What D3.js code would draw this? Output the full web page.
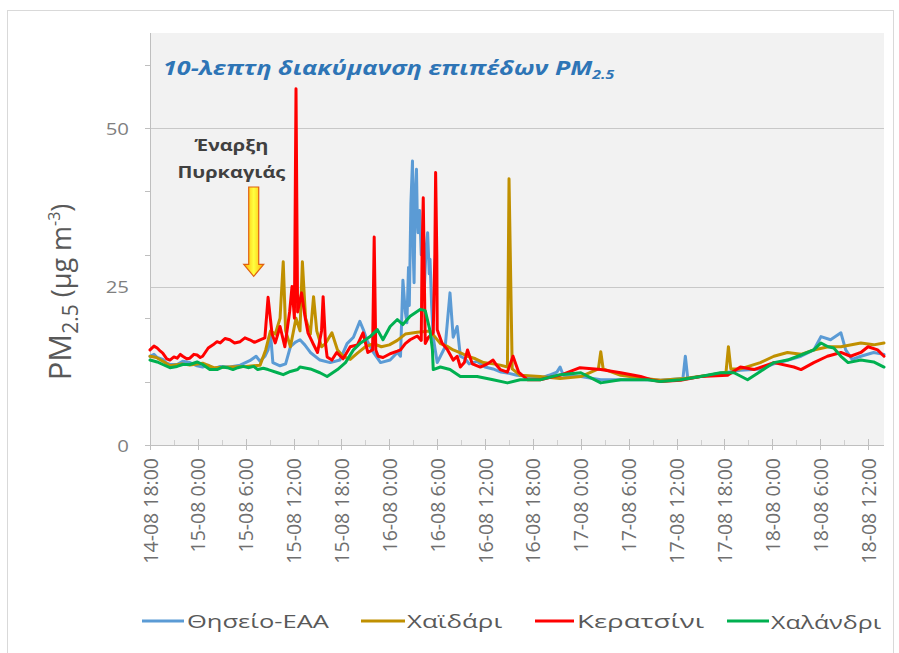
<!DOCTYPE html>
<html><head><meta charset="utf-8">
<script src="https://cdn.jsdelivr.net/npm/d3@7"></script>
<style>body{margin:0;background:#fff}</style>
</head><body>
<svg id="chart" width="899" height="653"></svg>
<script>
// ---------- data ----------
const seriesNames  = ["Θησείο-ΕΑΑ", "Χαϊδάρι", "Κερατσίνι", "Χαλάνδρι"];
const seriesColors = ["#5B9BD5", "#C09000", "#FF0000", "#00B050"];
const startTime = new Date(2021, 7, 14, 18, 0); // 14-08 18:00
const endHours = 92;
// [hours since 14-08 18:00, PM2.5 µg/m3]
const theseio = [[0,14],[0.5,14.3],[0.9,13.8],[1.6,13.5],[2.1,12.9],[2.5,12.7],[3.4,12.7],[4.1,13.2],[5,13],[5.9,12.5],[6.6,12.3],[7.3,12.6],[8,12],[8.8,12.4],[10,12.3],[11.3,12.6],[12.5,13.3],[13.3,14],[13.8,13.2],[14.4,14],[14.8,15],[15.1,17.7],[15.4,13],[16.3,12.5],[17,12.8],[17.6,15.5],[18.2,16.2],[18.8,16.6],[19.4,15.8],[20.1,14.6],[21.3,13.4],[22.6,13],[23.8,13.4],[24.7,16],[25.5,17],[26.3,19.5],[26.8,18],[27.2,16.5],[28,14.6],[28.9,13],[30.1,13.4],[31,14.6],[31.4,14],[31.7,26],[32,21],[32.2,19.3],[32.4,28],[32.5,22],[32.7,38],[32.9,44.8],[33,30],[33.1,25.6],[33.25,40],[33.4,43.5],[33.5,36],[33.6,33.5],[33.8,37],[34,30],[34.2,33],[34.4,25],[34.6,31],[34.8,33.5],[35,27],[35.1,29.3],[35.3,22],[35.5,17],[36,13],[36.4,14],[37,15.5],[37.6,24],[38,17],[38.5,18.7],[38.9,14],[39.5,13.6],[40,12.8],[41,13.2],[42,12.3],[43,12],[44,11.5],[45,11.3],[46,11],[47.5,10.8],[48.9,10.5],[50,11],[51,11.5],[51.4,12.3],[51.8,11],[54,10.8],[56.5,10.3],[59,10.3],[62,10.3],[64,10.2],[66.8,10.5],[67.1,14],[67.4,10.5],[69,10.8],[71.5,11.3],[74,11.8],[76.5,12],[78.2,12.8],[80,13.4],[81.6,14],[83.2,15],[84.1,17.1],[85.3,16.6],[86.6,17.7],[87.2,15],[88,13.5],[89.1,14],[90.7,14.6],[92,14.3]];
const chaidari = [[0,14],[0.8,13.8],[1.6,13.2],[2.5,12.5],[4,12.8],[5,12.6],[6.6,12.9],[8,12.2],[10,12.3],[12,12.4],[13.8,12.6],[14.5,15],[15.1,18],[15.7,17.5],[16.3,20],[16.7,28.9],[17,18],[17.6,15.5],[18.3,20],[18.8,18],[19.1,28.9],[19.5,20],[20.1,17.5],[20.5,23.4],[20.9,18],[21.5,15.5],[22,16],[22.8,17.7],[23.5,15],[24.2,14],[25.1,13.5],[26,14.5],[27,15.5],[28,16],[29,15.5],[30,15.8],[31,16.5],[32,17.5],[33.5,17.8],[35.1,18],[36.4,16],[37.2,15.6],[38,15],[39,14.5],[39.8,14],[40.8,13.6],[41.8,13],[43,12.8],[43.9,12.6],[44.8,12.3],[45,42],[45.4,12],[46.4,11],[48.9,10.8],[51.4,10.5],[54,10.8],[56.2,12],[56.5,14.7],[56.8,12],[59,11],[62,10.5],[64,10.2],[67,10.5],[70,11],[72.2,11.5],[72.5,15.5],[72.8,12],[74,12],[76.5,13],[78.2,14],[79.9,14.6],[81.6,14.3],[83.2,15],[85,15.5],[86.6,15.5],[89.1,16.1],[90.7,15.8],[92,16.1]];
const keratsini = [[0,15],[0.5,15.6],[0.9,15.3],[1.3,14.8],[1.6,14.5],[2.1,13.6],[2.5,13.4],[3,13.9],[3.4,13.7],[3.8,14.3],[4.1,14],[4.6,13.6],[5,13.7],[5.5,14.3],[5.9,14.2],[6.3,13.8],[6.6,14],[7.3,15.3],[7.9,15.8],[8.4,16.3],[8.8,16.1],[9.4,16.8],[10,16.6],[10.6,16.1],[11.3,16.3],[11.9,16.9],[12.5,16.6],[13.1,16.2],[13.8,16.6],[14.4,16.9],[14.8,23.3],[15.3,17.5],[15.7,16.1],[16.3,18.7],[16.9,15.5],[17.5,21],[17.8,25],[18.1,20],[18.3,56.2],[18.5,21],[19,24],[19.4,20.5],[19.8,17.7],[20.4,16.1],[21,14.6],[21.5,18],[21.7,23.4],[22,16],[22.2,13.9],[22.8,13.4],[23.4,14.6],[24.2,13.6],[25.1,15.5],[26,15.8],[26.7,17.7],[27.3,14.6],[27.9,15],[28.1,32.8],[28.3,15],[28.6,14],[29.2,13.8],[30.1,14.4],[31,14.8],[31.4,15],[32,16],[32.6,16.6],[33.5,17.2],[34,16.5],[34.1,30],[34.25,39],[34.4,25],[34.5,16],[34.9,17],[35.5,17.7],[35.7,30],[35.8,43],[35.95,30],[36,18.2],[36.6,16.1],[37.3,15],[38,13.4],[38.5,14],[38.9,12.3],[39.4,13],[39.8,15],[40.4,12.8],[41.4,12.3],[42.3,12.8],[43,13.4],[43.5,12.5],[43.9,11.9],[44.8,11.5],[45.5,14],[46.2,11.5],[47.3,10.3],[48.9,10.3],[50.6,10.8],[51.4,11],[53.9,12.2],[56.5,11.9],[59,11.4],[61.5,10.8],[63.1,10.2],[64,10],[66.5,10.2],[69,10.8],[72.4,11],[74,12.3],[75.7,11.9],[78.2,13],[80.7,12.3],[81.6,11.9],[83.2,13],[84.9,14],[86.6,14.6],[87.8,14],[89.1,14.6],[90,15.5],[91.2,15],[92,14]];
const chalandri = [[0,13.4],[0.9,13.1],[1.6,12.7],[2.5,12.2],[3.4,12.4],[4.1,12.7],[5,12.7],[5.9,13.1],[6.6,12.7],[7.5,11.9],[8.4,11.9],[9.1,12.3],[9.7,12.2],[10.4,11.9],[11,12.2],[11.7,12.4],[12.3,12.2],[13,12.4],[13.5,11.9],[14.2,12.1],[14.8,11.9],[16,11.4],[16.7,11.1],[17.6,11.6],[18.5,11.9],[18.8,12.3],[20.1,12],[21.3,11.4],[22.2,10.8],[23.5,11.9],[24.5,13],[25.5,15],[26.4,16.1],[27.6,17.1],[28.5,18.2],[29.2,16.6],[30.1,18.7],[31,19.8],[31.7,19],[32.6,20.3],[33.9,21.4],[34.5,21.2],[35.1,18],[35.4,15],[35.5,11.9],[36.4,12.3],[37.6,11.9],[38.9,10.8],[41,10.8],[43,10.3],[44.8,9.8],[46.4,10.3],[48.9,10.3],[51.4,11.1],[54,11.4],[56.5,9.8],[59,10.3],[62.4,10.3],[64,10],[66.5,10.3],[69,10.8],[71.5,11.4],[73.2,11.4],[74.9,10.3],[76.5,11.6],[78.2,13],[79.9,13.4],[81.6,14.2],[83.2,15],[84.1,16.1],[85,15.5],[85.7,15.3],[86.6,14],[87.5,13],[89.1,13.4],[90.7,13.1],[92,12.3]];
const seriesData = [theseio, chaidari, keratsini, chalandri];
const yLabelTicks = [0, 25, 50];
const yGridValues = [25, 50];
const yMarkTicks = [0, 10, 20, 30, 40, 50, 60];
const titleText = "10-λεπτη διακύμανση επιπέδων PM";
const annotationLines = ["Έναρξη", "Πυρκαγιάς"];

// ---------- layout ----------
const svg = d3.select("#chart");
const L = 150, R = 884, T = 33, B = 445;
const t = h => d3.timeMinute.offset(startTime, Math.round(h * 60));
const x = d3.scaleTime().domain([startTime, t(endHours)]).range([L, R]);
const y = d3.scaleLinear().domain([0, 65]).range([B, T]);

function fitGroup(g, target) {
  const bb = g.node().getBBox();
  return target / bb.width;
}

// outer frame
svg.append("rect").attr("x", 7.5).attr("y", 10.5).attr("width", 886).attr("height", 660)
  .attr("fill", "none").attr("stroke", "#D9D9D9");

// plot background
svg.append("rect").attr("x", L).attr("y", T).attr("width", R - L).attr("height", B - T).attr("fill", "#F2F2F2");

// gridlines
svg.append("g").selectAll("line").data(yGridValues).join("line")
  .attr("x1", L).attr("x2", R).attr("y1", d => Math.round(y(d)) + 0.5).attr("y2", d => Math.round(y(d)) + 0.5)
  .attr("stroke", "#C8C8C8").attr("stroke-width", 1);

// y axis
svg.append("line").attr("x1", L + 0.5).attr("x2", L + 0.5).attr("y1", T).attr("y2", B).attr("stroke", "#BFBFBF");
svg.append("g").selectAll("line").data(yMarkTicks).join("line")
  .attr("x1", L - 5).attr("x2", L).attr("y1", d => Math.round(y(d)) + 0.5).attr("y2", d => Math.round(y(d)) + 0.5)
  .attr("stroke", "#BFBFBF");
yLabelTicks.forEach(v => {
  const g = svg.append("g");
  g.append("text").attr("x", 0).attr("y", 0).attr("text-anchor", "end").attr("dominant-baseline", "central")
    .attr("font-family", "Open Sans").attr("font-size", 17).attr("fill", "#7F7F7F").text(v);
  g.attr("transform", `translate(129,${y(v)}) scale(1.2,1)`);
});

// y axis title
const yt = svg.append("text").attr("transform", "translate(71,292) rotate(-90)")
  .attr("text-anchor", "middle").attr("font-family", "Open Sans").attr("fill", "#595959");
yt.append("tspan").attr("font-size", 31).text("PM");
yt.append("tspan").attr("font-size", 21).attr("dy", 7).text("2.5");
yt.append("tspan").attr("font-size", 27).attr("dy", -7).text(" (μg m");
yt.append("tspan").attr("font-size", 16).attr("dy", -11).text("-3");
yt.append("tspan").attr("font-size", 27).attr("dy", 11).text(")");

// x axis
const majorTicks = d3.timeHour.every(6).range(startTime, t(endHours));
const minorTicks = d3.timeHour.every(3).range(startTime, t(endHours)).filter(d => d.getHours() % 6 !== 0);
svg.append("line").attr("x1", L).attr("x2", R).attr("y1", B + 0.5).attr("y2", B + 0.5).attr("stroke", "#BFBFBF");
svg.append("g").selectAll("line").data(majorTicks).join("line")
  .attr("x1", d => Math.round(x(d)) + 0.5).attr("x2", d => Math.round(x(d)) + 0.5)
  .attr("y1", B - 6).attr("y2", B + 5).attr("stroke", "#BFBFBF");
svg.append("g").selectAll("line").data(minorTicks).join("line")
  .attr("x1", d => Math.round(x(d)) + 0.5).attr("x2", d => Math.round(x(d)) + 0.5)
  .attr("y1", B - 5).attr("y2", B).attr("stroke", "#CFCFCF");
const fmt = d3.timeFormat("%d-%m %-H:%M");
svg.append("g").selectAll("text").data(majorTicks).join("text")
  .attr("transform", d => `translate(${x(d)},458) rotate(-90)`)
  .attr("text-anchor", "end").attr("dominant-baseline", "central")
  .attr("font-family", "Open Sans").attr("font-size", 19.5).attr("fill", "#6F6F6F")
  .text(d => fmt(d));

// lines
const line = d3.line().x(d => x(t(d[0]))).y(d => y(d[1]));
svg.append("g").selectAll("path").data(seriesData).join("path")
  .attr("d", d => line(d)).attr("fill", "none")
  .attr("stroke", (d, i) => seriesColors[i]).attr("stroke-width", 3)
  .attr("stroke-linejoin", "round").attr("stroke-linecap", "round");

// title
const tg = svg.append("g");
const tt = tg.append("text").attr("x", 0).attr("y", 0).attr("font-family", "Open Sans")
  .attr("font-style", "italic").attr("font-weight", "bold").attr("font-size", 19).attr("fill", "#2E75B6");
tt.append("tspan").text(titleText);
tt.append("tspan").attr("font-size", 12).attr("dy", 4).text("2.5");
tg.attr("transform", `translate(163,75) scale(${fitGroup(tg, 452)},1)`);

// annotation
const annX = x(t(10.2));
annotationLines.forEach((s, i) => {
  const g = svg.append("g");
  g.append("text").attr("text-anchor", "middle").attr("font-family", "Open Sans").attr("font-weight", "bold")
    .attr("font-size", 16).attr("fill", "#404040").text(s);
  g.attr("transform", `translate(${annX},${[151, 178][i]}) scale(1.25,1)`);
});
const defs = svg.append("defs");
const grad = defs.append("linearGradient").attr("id", "arrowGrad").attr("x1", "0").attr("x2", "1").attr("y1", "0").attr("y2", "0");
grad.append("stop").attr("offset", "0%").attr("stop-color", "#FFB000");
grad.append("stop").attr("offset", "50%").attr("stop-color", "#FFFF40");
grad.append("stop").attr("offset", "100%").attr("stop-color", "#FFB000");
const ax = x(t(13.0)), aTop = y(40.7), aNeck = y(28.5), aTip = y(26.6);
svg.append("path")
  .attr("d", `M${ax - 5},${aTop} L${ax + 5},${aTop} L${ax + 5},${aNeck} L${ax + 10},${aNeck} L${ax},${aTip} L${ax - 10},${aNeck} L${ax - 5},${aNeck} Z`)
  .attr("fill", "url(#arrowGrad)").attr("stroke", "#E06010").attr("stroke-width", 1.2);

// legend
const legLine = [[142, 184], [361, 405], [535, 574], [727, 769]];
const legText = [[187, 329], [407, 503], [577, 705], [771, 882]];
seriesNames.forEach((n, i) => {
  svg.append("line").attr("x1", legLine[i][0]).attr("x2", legLine[i][1]).attr("y1", 621).attr("y2", 621)
    .attr("stroke", seriesColors[i]).attr("stroke-width", 3);
  const g = svg.append("g");
  g.append("text").attr("x", 0).attr("y", 0).attr("dominant-baseline", "central")
    .attr("font-family", "Open Sans").attr("font-size", 19).attr("fill", "#595959").text(n);
  g.attr("transform", `translate(${legText[i][0]},621) scale(${fitGroup(g, legText[i][1] - legText[i][0])},1)`);
});
</script>
</body></html>
